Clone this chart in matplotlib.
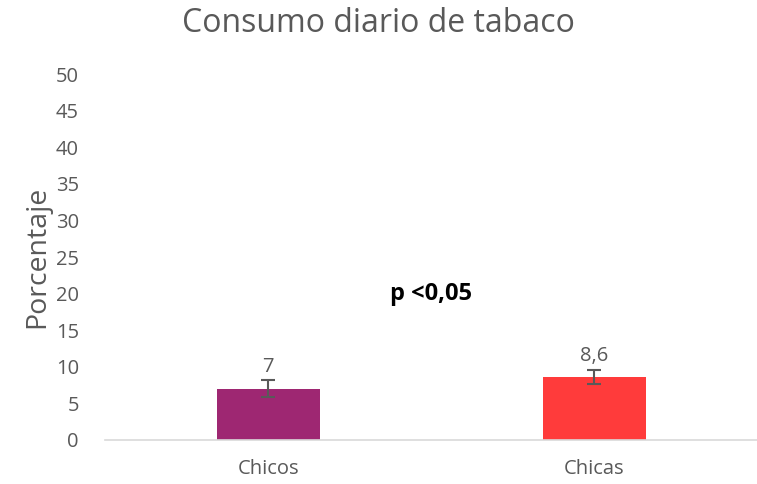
import matplotlib.pyplot as plt
import numpy as np

categorias = ['Chicos', 'Chicas']
valores = [7, 8.6]
errores = [1.15, 0.95]
etiquetas = ['7', '8,6']
colores = ['#9E2772', '#FF3B3B']

plt.rcParams['font.family'] = ['Open Sans', 'DejaVu Sans']
gris = '#595959'

fig = plt.figure(figsize=(7.57, 4.84), dpi=100)
ax = fig.add_axes([0.139, 0.091, 0.861, 0.756])

x = np.arange(len(categorias))
ax.bar(x, valores, width=0.316, color=colores, zorder=2)
ax.errorbar(x, valores, yerr=errores, fmt='none', ecolor=gris, elinewidth=1.5,
            capsize=5, capthick=1.5, zorder=3)
for xi, v, e, t in zip(x, valores, errores, etiquetas):
    ax.text(xi, v + e + 0.5, t, ha='center', va='bottom', fontsize=14.5, color=gris)

ax.text(0.5, 20, 'p <0,05', ha='center', va='center', fontsize=17,
        fontweight='bold', color='black')

ax.set_xlim(-0.5, 1.5)
ax.set_ylim(0, 50)
ax.set_yticks(range(0, 51, 5))
ax.set_xticks(x)
ax.set_xticklabels(categorias)
ax.tick_params(axis='both', length=0, labelsize=14.5, labelcolor=gris)
ax.tick_params(axis='y', pad=19)
ax.tick_params(axis='x', pad=14)
for s in ['top', 'right', 'left']:
    ax.spines[s].set_visible(False)
ax.spines['bottom'].set_color('#D9D9D9')
ax.spines['bottom'].set_linewidth(1.2)

ax.set_ylabel('Porcentaje', fontsize=20.5, color=gris, labelpad=3)
fig.suptitle('Consumo diario de tabaco', fontsize=23, color=gris, x=0.5, y=0.985)

fig.savefig('out.png', dpi=100)
